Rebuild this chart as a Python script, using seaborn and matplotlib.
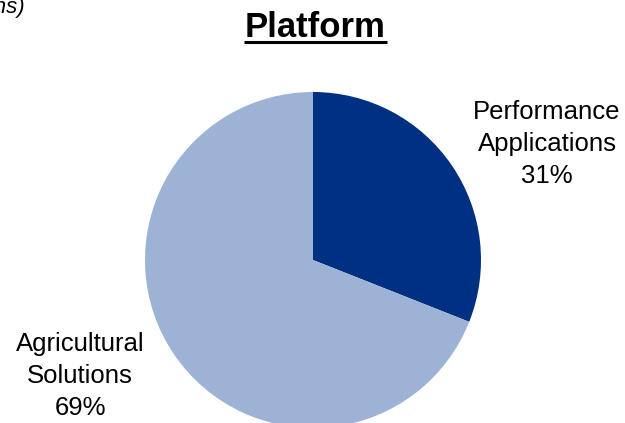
import matplotlib
matplotlib.use("Agg")
import matplotlib.pyplot as plt
import seaborn as sns

categories = ["Performance\nApplications", "Agricultural\nSolutions"]
shares = [31, 69]
colors = ["#003082", "#9db3d6"]

sns.set_theme(style="white")
plt.rcParams["font.family"] = ["Liberation Sans", "DejaVu Sans"]

W, H = 625, 423
fig = plt.figure(figsize=(W / 100, H / 100), dpi=100)
ax = fig.add_axes([0, 0, 1, 1])

cx, cy, r = 313, H - 260, 168
ax.pie(shares, colors=colors, startangle=90, counterclock=False,
       center=(cx, cy), radius=r, frame=True,
       wedgeprops=dict(linewidth=0))
ax.set_xlim(0, W)
ax.set_ylim(0, H)
ax.set_aspect("equal")
ax.axis("off")

# slice labels with percentages (positions of the middle line)
label_pos = [(547, H - 144), (80, H - 376)]
for (x, y), cat, s in zip(label_pos, categories, shares):
    ax.text(x, y, f"{cat}\n{s}%", ha="center", va="center", fontsize=18.5,
            color="black", linespacing=1.4, multialignment="center")

# title with underline
ax.text(315, H - 37, "Platform", ha="center", va="baseline",
        fontsize=25, fontweight="bold", color="black")
ax.plot([244, 387], [H - 42, H - 42], color="black", lw=2.2,
        solid_capstyle="butt")

# units note
ax.text(25, H + 3, "(in millions)", ha="right", va="top",
        fontsize=16, fontstyle="italic", color="black")

fig.savefig("out.png", dpi=100)
